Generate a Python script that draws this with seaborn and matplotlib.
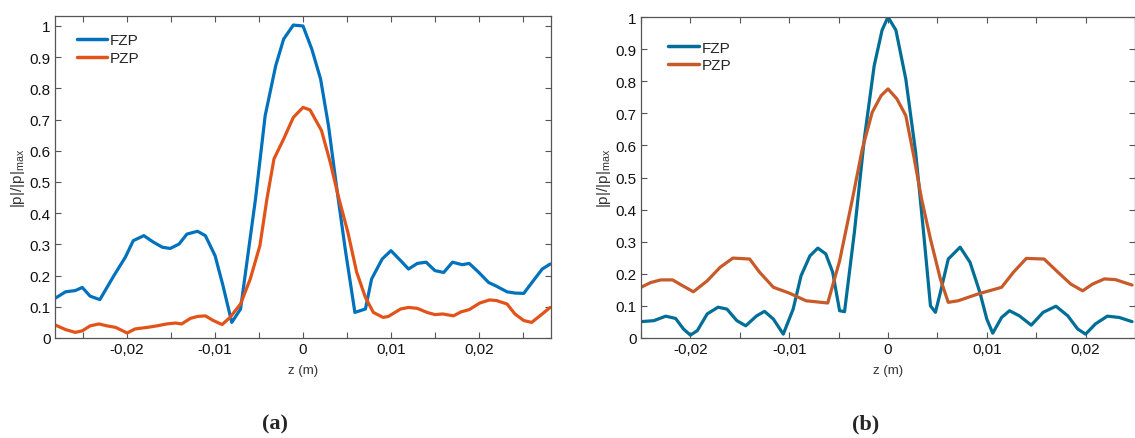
import numpy as np
import pandas as pd
import seaborn as sns
import matplotlib.pyplot as plt
from matplotlib.ticker import MultipleLocator, FuncFormatter

# panel (a): FZP / PZP normalised pressure along z
z_a_fzp = [-0.0282, -0.0270, -0.0259, -0.0251, -0.0242, -0.0231, -0.0215, -0.0202,
           -0.0193, -0.0181, -0.0170, -0.0160, -0.0151, -0.0141, -0.0132, -0.0120,
           -0.0111, -0.0100, -0.0091, -0.0081, -0.0071, -0.0054, -0.0043, -0.0031,
           -0.0022, -0.0011, 0.0000, 0.0010, 0.0020, 0.0029, 0.0038, 0.0048,
           0.0059, 0.0071, 0.0078, 0.0090, 0.0100, 0.0111, 0.0120, 0.0130,
           0.0140, 0.0150, 0.0160, 0.0170, 0.0181, 0.0189, 0.0200, 0.0211,
           0.0220, 0.0232, 0.0241, 0.0251, 0.0262, 0.0272, 0.0281]
p_a_fzp = [0.127, 0.148, 0.152, 0.162, 0.134, 0.123, 0.200, 0.259,
           0.312, 0.328, 0.307, 0.291, 0.287, 0.301, 0.333, 0.342,
           0.328, 0.264, 0.168, 0.050, 0.093, 0.446, 0.713, 0.873,
           0.958, 1.003, 1.000, 0.926, 0.830, 0.680, 0.488, 0.285,
           0.082, 0.093, 0.189, 0.253, 0.280, 0.248, 0.221, 0.239,
           0.243, 0.216, 0.210, 0.243, 0.235, 0.239, 0.210, 0.178,
           0.166, 0.148, 0.144, 0.143, 0.184, 0.221, 0.237]

z_a_pzp = [-0.0282, -0.0270, -0.0259, -0.0251, -0.0242, -0.0232, -0.0223, -0.0213,
           -0.0200, -0.0191, -0.0177, -0.0166, -0.0155, -0.0145, -0.0138, -0.0128,
           -0.0120, -0.0111, -0.0102, -0.0092, -0.0083, -0.0071, -0.0060, -0.0049,
           -0.0041, -0.0033, -0.0022, -0.0011, 0.0000, 0.0008, 0.0021, 0.0031,
           0.0040, 0.0051, 0.0061, 0.0071, 0.0080, 0.0091, 0.0097, 0.0111,
           0.0120, 0.0130, 0.0141, 0.0150, 0.0159, 0.0171, 0.0180, 0.0189,
           0.0201, 0.0212, 0.0220, 0.0232, 0.0241, 0.0251, 0.0260, 0.0272, 0.0281]
p_a_pzp = [0.042, 0.027, 0.018, 0.023, 0.039, 0.045, 0.039, 0.034,
           0.016, 0.029, 0.034, 0.039, 0.045, 0.048, 0.045, 0.063,
           0.069, 0.071, 0.056, 0.043, 0.066, 0.109, 0.189, 0.296,
           0.446, 0.574, 0.638, 0.707, 0.739, 0.731, 0.665, 0.563,
           0.456, 0.339, 0.211, 0.130, 0.082, 0.066, 0.069, 0.093,
           0.098, 0.095, 0.082, 0.075, 0.077, 0.071, 0.084, 0.091,
           0.112, 0.122, 0.120, 0.109, 0.077, 0.056, 0.050, 0.077, 0.098]

# panel (b)
z_b_fzp = [-0.0250, -0.0237, -0.0225, -0.0215, -0.0207, -0.0200, -0.0193, -0.0183,
           -0.0172, -0.0163, -0.0153, -0.0144, -0.0133, -0.0125, -0.0116, -0.0106,
           -0.0096, -0.0088, -0.0079, -0.0071, -0.0063, -0.0056, -0.0049, -0.0044,
           -0.0034, -0.0024, -0.0014, -0.0006, 0.0000, 0.0008, 0.0018, 0.0028,
           0.0036, 0.0043, 0.0048, 0.0053, 0.0061, 0.0073, 0.0083, 0.0093,
           0.0100, 0.0106, 0.0115, 0.0123, 0.0133, 0.0145, 0.0157, 0.0170,
           0.0182, 0.0192, 0.0200, 0.0210, 0.0222, 0.0234, 0.0247]
p_b_fzp = [0.051, 0.054, 0.068, 0.061, 0.028, 0.009, 0.023, 0.075,
           0.096, 0.090, 0.054, 0.038, 0.069, 0.083, 0.059, 0.012,
           0.090, 0.194, 0.256, 0.280, 0.262, 0.205, 0.085, 0.082,
           0.330, 0.620, 0.848, 0.959, 1.000, 0.959, 0.807, 0.578,
           0.329, 0.100, 0.080, 0.142, 0.246, 0.283, 0.236, 0.142,
           0.059, 0.015, 0.064, 0.085, 0.069, 0.040, 0.080, 0.099,
           0.069, 0.028, 0.012, 0.044, 0.068, 0.064, 0.051]

z_b_pzp = [-0.0250, -0.0240, -0.0230, -0.0218, -0.0208, -0.0197, -0.0183, -0.0170,
           -0.0157, -0.0140, -0.0130, -0.0116, -0.0100, -0.0083, -0.0061, -0.0058,
           -0.0049, -0.0036, -0.0026, -0.0016, -0.0007, 0.0000, 0.0009, 0.0018,
           0.0026, 0.0034, 0.0043, 0.0053, 0.0061, 0.0071, 0.0091, 0.0115,
           0.0127, 0.0140, 0.0158, 0.0172, 0.0185, 0.0197, 0.0207, 0.0219,
           0.0230, 0.0247]
p_b_pzp = [0.158, 0.173, 0.181, 0.181, 0.163, 0.144, 0.178, 0.220,
           0.249, 0.246, 0.205, 0.158, 0.140, 0.116, 0.109, 0.142,
           0.240, 0.433, 0.589, 0.703, 0.755, 0.776, 0.745, 0.693,
           0.568, 0.433, 0.308, 0.184, 0.111, 0.116, 0.137, 0.158,
           0.205, 0.248, 0.246, 0.205, 0.168, 0.147, 0.168, 0.184,
           0.182, 0.165]

series_names = ["FZP", "PZP"]
colors_a = ["#0072BD", "#E2531A"]
colors_b = ["#006E96", "#C85A2A"]


def make_df(z1, p1, z2, p2):
    d1 = pd.DataFrame({"z": z1, "p": p1, "lens": series_names[0]})
    d2 = pd.DataFrame({"z": z2, "p": p2, "lens": series_names[1]})
    return pd.concat([d1, d2], ignore_index=True)


df_a = make_df(z_a_fzp, p_a_fzp, z_a_pzp, p_a_pzp)
df_b = make_df(z_b_fzp, p_b_fzp, z_b_pzp, p_b_pzp)

sns.set_style("ticks")
plt.rcParams["font.family"] = ["Liberation Sans", "DejaVu Sans"]
plt.rcParams["mathtext.default"] = "regular"

fig = plt.figure(figsize=(11.35, 4.39), dpi=100)
ax_a = fig.add_axes([55 / 1135, 100 / 439, 496 / 1135, 322 / 439])
ax_b = fig.add_axes([641 / 1135, 100 / 439, 494 / 1135, 321 / 439])


def comma_fmt(v, pos):
    if abs(v) < 1e-9:
        return "0"
    return ("%.2f" % v).replace(".", ",")


def y_fmt(v, pos):
    if abs(v) < 1e-9:
        return "0"
    if abs(v - 1) < 1e-9:
        return "1"
    return "%.1f" % v


panels = [
    (ax_a, df_a, colors_a, 0.0282, 1.032, (0.025, 0.975), "(a)", 275 / 1135),
    (ax_b, df_b, colors_b, 0.025, 1.0, (0.037, 0.955), "(b)", 866 / 1135),
]

for ax, df, cols, xl, yt, leg_anchor, tag, tag_x in panels:
    sns.lineplot(data=df, x="z", y="p", hue="lens", palette=cols, sort=False,
                 linewidth=2.3, ax=ax, estimator=None)
    ax.set_xlim(-xl, xl)
    ax.set_ylim(0, yt)
    ax.xaxis.set_major_locator(MultipleLocator(0.01))
    ax.xaxis.set_minor_locator(MultipleLocator(0.005))
    ax.yaxis.set_major_locator(MultipleLocator(0.1))
    ax.xaxis.set_major_formatter(FuncFormatter(comma_fmt))
    ax.yaxis.set_major_formatter(FuncFormatter(y_fmt))
    ax.tick_params(which="both", direction="in", top=True, right=True,
                   length=4.5, width=0.8, color="#555555", labelsize=11,
                   labelcolor="#111111", pad=3)
    for s in ax.spines.values():
        s.set_color("#555555")
        s.set_linewidth(0.9)
    ax.set_xlabel("z (m)", fontsize=9.5, color="#333333", labelpad=6)
    ax.set_ylabel(r"|p|/|p|$_{max}$", fontsize=11, color="#333333", labelpad=2)
    leg = ax.legend(loc="upper left", bbox_to_anchor=leg_anchor, frameon=False,
                    fontsize=11, handlelength=2.0, handletextpad=0.15,
                    labelspacing=0.25, borderaxespad=0.2)
    for line in leg.get_lines():
        line.set_linewidth(2.5)
    fig.text(tag_x, 15 / 439, tag, fontsize=16, fontweight="bold",
             family=["Liberation Serif", "DejaVu Serif"], ha="center",
             va="center")

fig.savefig("out.png", dpi=100, facecolor="white")
